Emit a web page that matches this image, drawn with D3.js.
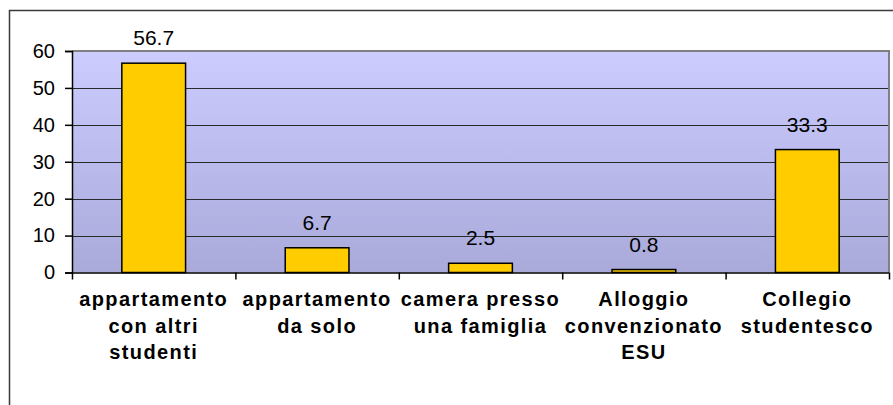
<!DOCTYPE html>
<html><head><meta charset="utf-8">
<script src="https://cdn.jsdelivr.net/npm/d3@7"></script>
<style>html,body{margin:0;padding:0;background:#fff;}svg{display:block;}</style>
</head><body>
<svg id="c" width="893" height="405"></svg>
<script>
const categories = [
  ["appartamento","con altri","studenti"],
  ["appartamento","da solo"],
  ["camera presso","una famiglia"],
  ["Alloggio","convenzionato","ESU"],
  ["Collegio","studentesco"]
];
const values = [56.7, 6.7, 2.5, 0.8, 33.3];
const valueLabels = ["56.7","6.7","2.5","0.8","33.3"];
const yTicks = [0,10,20,30,40,50,60];

const svg = d3.select("#c");
const L = 72, R = 889, T = 51, B = 272.5;
const FONT = "Liberation Sans, Arial, sans-serif";

// outer frame
svg.append("rect").attr("x",9.5).attr("y",10.5).attr("width",1000).attr("height",1000)
  .attr("fill","none").attr("stroke","#3a3a3a").attr("stroke-width",1.5);

const defs = svg.append("defs");
const g = defs.append("linearGradient").attr("id","bg").attr("x1",0).attr("y1",0).attr("x2",0).attr("y2",1);
g.append("stop").attr("offset","0%").attr("stop-color","#CCCCFF");
g.append("stop").attr("offset","100%").attr("stop-color","#A9A9DA");

const x = d3.scaleBand().domain(d3.range(values.length)).range([L,R]).paddingInner(0).paddingOuter(0);
const y = d3.scaleLinear().domain([0,60]).range([B,T]);

svg.append("rect").attr("x",L).attr("y",T).attr("width",R-L).attr("height",B-T).attr("fill","url(#bg)");

// gridlines
svg.append("g").selectAll("line").data(yTicks.filter(d=>d>0 && d<60)).join("line")
  .attr("x1",L).attr("x2",R).attr("y1",d=>Math.round(y(d))+0.5).attr("y2",d=>Math.round(y(d))+0.5)
  .attr("stroke","#2a2a2a").attr("stroke-width",1);

// plot border top/right
svg.append("path").attr("d",`M${L},${T} H${R} V${B}`).attr("fill","none")
  .attr("stroke","#808080").attr("stroke-width",2);

// bars
const bw = x.bandwidth()*0.39;
svg.append("g").selectAll("rect").data(values).join("rect")
  .attr("x",(d,i)=>x(i)+x.bandwidth()/2-bw/2)
  .attr("y",d=>y(d))
  .attr("width",bw)
  .attr("height",d=>y(0)-y(d))
  .attr("fill","#FFCC00").attr("stroke","#000").attr("stroke-width",1.5);

// data labels
svg.append("g").selectAll("text").data(values).join("text")
  .attr("x",(d,i)=>x(i)+x.bandwidth()/2)
  .attr("y",d=>y(d)-18)
  .attr("text-anchor","middle")
  .attr("font-family",FONT).attr("font-size",21)
  .attr("fill","#000")
  .text((d,i)=>valueLabels[i]);

// y axis
const yAxis = d3.axisLeft(y).tickValues(yTicks).tickSize(7).tickPadding(10).tickFormat(d3.format("d"));
const ya = svg.append("g").attr("transform",`translate(${L},0)`).call(yAxis);
ya.select(".domain").attr("stroke","#000").attr("stroke-width",1.5);
ya.selectAll(".tick line").attr("stroke","#000").attr("stroke-width",1.5);
ya.selectAll("text").attr("font-family",FONT).attr("font-size",20).attr("fill","#000");

// x axis
const xb = d3.scaleLinear().domain([0,values.length]).range([L,R]);
const xAxis = d3.axisBottom(xb).tickValues(d3.range(values.length+1)).tickSize(7).tickFormat("");
const xa = svg.append("g").attr("transform",`translate(0,${B})`).call(xAxis);
xa.select(".domain").attr("stroke","#000").attr("stroke-width",1.5).attr("d",`M${L},0.5H${R}`);
xa.selectAll(".tick line").attr("stroke","#000").attr("stroke-width",1.5);

// category labels
const cl = svg.append("g").selectAll("text").data(categories).join("text")
  .attr("x",(d,i)=>x(i)+x.bandwidth()/2)
  .attr("y",306)
  .attr("text-anchor","middle")
  .attr("font-family",FONT).attr("font-size",20)
  .attr("font-weight","bold").attr("letter-spacing","1.4px").attr("fill","#000");
cl.selectAll("tspan").data(d=>d).join("tspan")
  .attr("x",function(){return this.parentNode.getAttribute("x");})
  .attr("dy",(d,i)=>i===0?0:26.5)
  .text(d=>d);
</script>
</body></html>
